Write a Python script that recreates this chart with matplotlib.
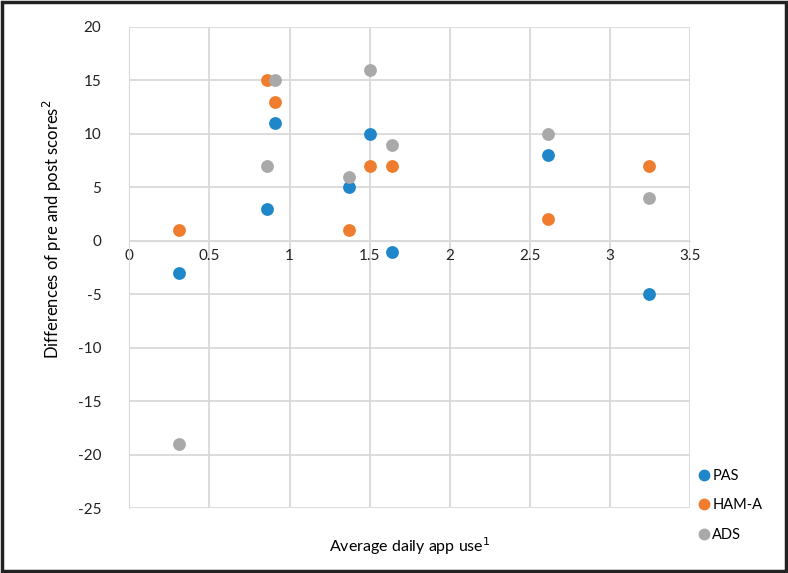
import matplotlib.pyplot as plt
from matplotlib.lines import Line2D

plt.rcParams['font.family'] = ['Lato', 'DejaVu Sans']
plt.rcParams['axes.unicode_minus'] = False

# average daily app use per participant
app_use = [0.31, 0.86, 0.91, 1.37, 1.50, 1.64, 2.61, 3.24]
# pre/post score differences
pas = [-3, 3, 11, 5, 10, -1, 8, -5]
ham_a = [1, 15, 13, 1, 7, 7, 2, 7]
ads = [-19, 7, 15, 6, 16, 9, 10, 4]

series = [("PAS", pas, "#1f86c9"), ("HAM-A", ham_a, "#ef7d2d"), ("ADS", ads, "#a9a9a9")]
x_ticks = [0, 0.5, 1, 1.5, 2, 2.5, 3, 3.5]
y_ticks = list(range(-25, 21, 5))

fig = plt.figure(figsize=(7.88, 5.73), dpi=100)
ax = fig.add_axes([0.164, 0.113, 0.712, 0.840])

for name, vals, col in series:
    ax.scatter(app_use, vals, s=85, color=col, zorder=3, linewidths=0)

ax.set_xlim(0, 3.5)
ax.set_ylim(-25, 20)
ax.set_xticks(x_ticks)
ax.set_xticklabels([f"{t:g}" for t in x_ticks])
ax.set_yticks(y_ticks)
ax.grid(True, color="#d9d9d9", linewidth=1.3)
ax.set_axisbelow(True)
for s in ax.spines.values():
    s.set_visible(False)
ax.spines['bottom'].set_position(('data', 0))
ax.spines['bottom'].set_visible(True)
ax.spines['bottom'].set_color("#d9d9d9")
ax.spines['left'].set_visible(True)
ax.spines['left'].set_color("#d9d9d9")
ax.tick_params(length=0, labelsize=11, colors="#222222")
ax.tick_params(axis='y', pad=20)
ax.tick_params(axis='x', pad=6)

fig.text(0.52, 0.047, "Average daily app use$^1$", ha="center", va="center", fontsize=11.5)
fig.text(0.066, 0.6, "Differences of pre and post scores$^2$", rotation=90,
         ha="center", va="center", fontsize=12)

handles = [Line2D([], [], marker="o", linestyle="", color=c, markersize=7.5, label=n)
           for n, v, c in series]
fig.legend(handles=handles, loc="center left", bbox_to_anchor=(0.868, 0.118),
           frameon=False, fontsize=10.5, handletextpad=0.05, labelspacing=1.05,
           handlelength=1.0)

border = plt.Rectangle((0.002, 0.003), 0.996, 0.994, transform=fig.transFigure,
                       fill=False, edgecolor="#222222", linewidth=2.5)
fig.patches.append(border)

fig.savefig("out.png", dpi=100)
